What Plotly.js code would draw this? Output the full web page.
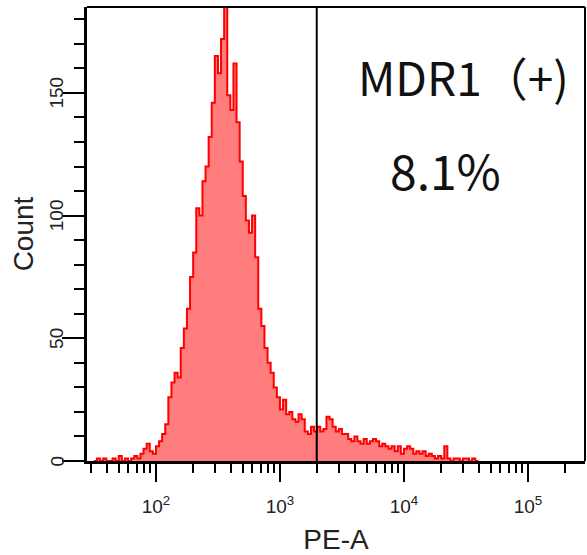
<!DOCTYPE html>
<html>
<head>
<meta charset="utf-8">
<script src="https://cdn.plot.ly/plotly-3.0.1.min.js"></script>
<style>
  html, body { margin: 0; padding: 0; background: #fff; }
  #chart { width: 587px; height: 555px; }
</style>
</head>
<body>
<div id="chart"></div>
<script>
// ---- data ----
// histogram: first bin starts at log10(PE-A) = 1.5, bins are 0.025 decades wide
const binStartLog = 1.5;
const binWidthLog = 0.025;
const counts = [
  0, 1, 0, 1, 0, 0, 1, 0, 2, 0,
  1, 0, 1, 2, 1, 3, 5, 7, 4, 3,
  6, 8, 11, 15, 26, 32, 36, 34, 46, 54,
  62, 75, 85, 103, 100, 114, 120, 132, 146, 165,
  158, 172, 190, 149, 143, 162, 138, 122, 108, 98,
  93, 100, 83, 62, 55, 46, 40, 36, 30, 26,
  21, 25, 19, 20, 17, 16, 19, 17, 12, 11,
  14, 12, 14, 12, 13, 18, 17, 14, 12, 13,
  11, 11, 9, 8, 10, 8, 7, 9, 7, 8,
  9, 8, 6, 7, 6, 5, 6, 4, 6, 3,
  5, 6, 5, 3, 4, 3, 4, 2, 3, 2,
  1, 2, 1, 6, 1, 0, 1, 1, 0, 1,
  1, 0, 1, 0
];
const gateValue = 1980;              // PE-A gate boundary
const gateLabel = "MDR1（+)";
const gatePercent = "8.1%";
const xTickVals = [100, 1000, 10000, 100000];
const xTickText = ["10<sup>2</sup>", "10<sup>3</sup>", "10<sup>4</sup>", "10<sup>5</sup>"];
const xMinorVals = [30, 40, 50, 60, 70, 80, 90,
  200, 300, 400, 500, 600, 700, 800, 900,
  2000, 3000, 4000, 5000, 6000, 7000, 8000, 9000,
  20000, 30000, 40000, 50000, 60000, 70000, 80000, 90000, 200000];
const yTickVals = [0, 50, 100, 150];
const yTickText = ["0", "50", "100", "150"];
const xTitle = "PE-A";
const yTitle = "Count";

// ---- build step outline from the bins ----
const xs = [], ys = [];
for (let i = 0; i < counts.length; i++) {
  xs.push(Math.pow(10, binStartLog + binWidthLog * i));
  ys.push(counts[i]);
}
xs.push(Math.pow(10, binStartLog + binWidthLog * counts.length));
ys.push(0);

const trace = {
  type: 'scatter',
  mode: 'lines',
  x: xs,
  y: ys,
  line: { shape: 'hv', color: '#ff0000', width: 2 },
  fill: 'tozeroy',
  fillcolor: 'rgba(255,10,10,0.53)',
  hoverinfo: 'x+y',
  showlegend: false
};

const tickFont = { family: 'Liberation Sans, Arial, sans-serif', size: 19, color: '#222' };
const titleFont = { family: 'Liberation Sans, Arial, sans-serif', size: 28, color: '#222' };

// rotated y tick labels, placed on the y scale
const yLabelAnnotations = yTickVals.map((v, i) => ({
  xref: 'paper', yref: 'y', x: -0.061, y: v,
  xanchor: 'center', yanchor: 'middle', showarrow: false, textangle: -90,
  text: yTickText[i], font: tickFont
}));

const layout = {
  width: 587,
  height: 555,
  margin: { l: 87, r: 2, t: 7, b: 94, pad: 0 },
  paper_bgcolor: '#ffffff',
  plot_bgcolor: '#ffffff',
  showlegend: false,
  xaxis: {
    type: 'log',
    range: [1.444, 5.46],
    showgrid: false,
    zeroline: false,
    showline: true,
    linecolor: '#000',
    linewidth: 3,
    ticks: 'outside',
    ticklen: 18,
    tickwidth: 2,
    tickcolor: '#000',
    tickmode: 'array',
    tickvals: xTickVals,
    ticktext: xTickText,
    tickfont: tickFont,
    ticklabelstandoff: 8,
    minor: { tickmode: 'array', tickvals: xMinorVals, ticks: 'outside', ticklen: 9, tickwidth: 2, tickcolor: '#000', showgrid: false },
    title: { text: xTitle, font: titleFont },
    automargin: false,
    fixedrange: true
  },
  yaxis: {
    range: [0, 185],
    showgrid: false,
    zeroline: false,
    showline: true,
    linecolor: '#000',
    linewidth: 3,
    ticks: 'outside',
    ticklen: 22,
    tickwidth: 2,
    tickcolor: '#000',
    tickmode: 'array',
    tickvals: yTickVals,
    showticklabels: false,
    minor: { dtick: 10, ticks: 'outside', ticklen: 10, tickwidth: 2, tickcolor: '#000', showgrid: false },
    title: { text: yTitle, font: titleFont },
    automargin: false,
    fixedrange: true
  },
  shapes: [
    { type: 'line', xref: 'x', yref: 'paper', x0: gateValue, x1: gateValue, y0: 0, y1: 1, line: { color: '#000', width: 2 } },
    { type: 'line', xref: 'paper', yref: 'paper', x0: 0, x1: 1, y0: 1, y1: 1, line: { color: '#000', width: 2 } },
    { type: 'line', xref: 'paper', yref: 'paper', x0: 1, x1: 1, y0: 0, y1: 1, line: { color: '#000', width: 2 } }
  ],
  annotations: yLabelAnnotations.concat([
    { xref: 'paper', yref: 'paper', x: 0.540, y: 0.848, xanchor: 'left', yanchor: 'middle', showarrow: false,
      text: gateLabel, font: { family: 'Noto Sans CJK SC, Noto Sans, sans-serif', size: 46, color: '#111' } },
    { xref: 'paper', yref: 'paper', x: 0.719, y: 0.643, xanchor: 'center', yanchor: 'middle', showarrow: false,
      text: gatePercent, font: { family: 'Noto Sans CJK SC, Noto Sans, sans-serif', size: 48, color: '#111' } }
  ])
};

Plotly.newPlot('chart', [trace], layout, { staticPlot: true, displayModeBar: false });
</script>
</body>
</html>
